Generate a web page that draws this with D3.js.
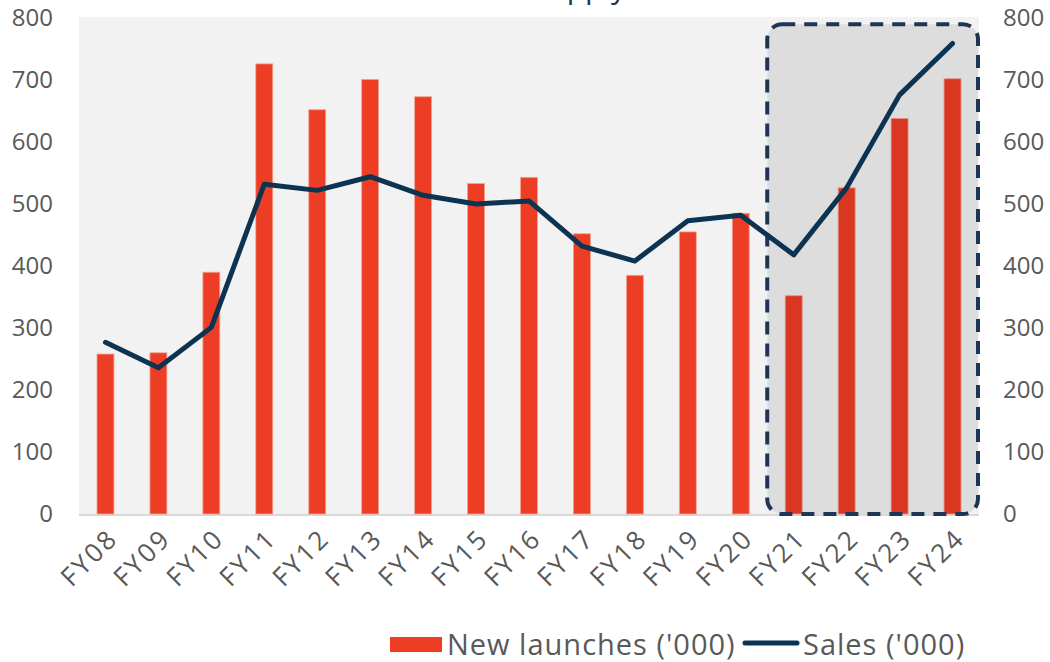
<!DOCTYPE html>
<html>
<head>
<meta charset="utf-8">
<script src="https://cdn.jsdelivr.net/npm/d3@7"></script>
<style>
  body { margin: 0; background: #fff; }
  svg text { font-family: "Open Sans", "Noto Sans", sans-serif; fill: #595959; }
</style>
</head>
<body>
<div id="chart"></div>
<script>
var years = ["FY08","FY09","FY10","FY11","FY12","FY13","FY14","FY15","FY16","FY17","FY18","FY19","FY20","FY21","FY22","FY23","FY24"];
var launches = [258, 260, 390, 726, 652, 701, 673, 533, 543, 452, 385, 455, 485, 352, 526, 638, 702];
var sales = [277, 236, 301, 532, 522, 544, 514, 500, 505, 432, 408, 473, 482, 418, 526, 676, 759];
var yTicks = [0, 100, 200, 300, 400, 500, 600, 700, 800];
var highlight = ["FY21", "FY24"];

var width = 1050,
    height = 662,
    margin = {top: 18, right: 71, bottom: 148, left: 79};

var x = d3.scaleBand()
    .domain(years)
    .range([margin.left, width - margin.right])
    .paddingInner(0.68)
    .paddingOuter(0.34);

var y = d3.scaleLinear()
    .domain([0, 800])
    .range([height - margin.bottom, margin.top]);

var svg = d3.select("#chart").append("svg")
    .attr("width", width)
    .attr("height", height);

// title, cut off by the top edge as in the source
svg.append("text")
    .attr("x", 626)
    .attr("y", -2)
    .attr("text-anchor", "end")
    .style("font-size", "30px")
    .style("fill", "#1f3556")
    .text("Demand-supply");

// plot background
svg.append("rect")
    .attr("x", margin.left)
    .attr("y", margin.top - 1)
    .attr("width", width - margin.left - margin.right)
    .attr("height", y(0) - margin.top + 3)
    .attr("fill", "#f2f2f2");

svg.append("line")
    .attr("x1", margin.left)
    .attr("x2", width - margin.right)
    .attr("y1", y(0) + 1)
    .attr("y2", y(0) + 1)
    .attr("stroke", "#d9d9d9")
    .attr("stroke-width", 2);

svg.selectAll(".bar")
    .data(launches)
  .enter().append("rect")
    .attr("class", "bar")
    .attr("x", function(d, i) { return x(years[i]); })
    .attr("y", function(d) { return y(d); })
    .attr("width", x.bandwidth())
    .attr("height", function(d) { return y(0) - y(d); })
    .attr("fill", "#ee3d25")
    .attr("stroke", "#f3a393")
    .attr("stroke-width", 0.8);

// highlighted period
var step = x.step(),
    bx = x(highlight[0]) - x.paddingInner() * step / 2,
    bx2 = x(highlight[1]) + x.bandwidth() + x.paddingInner() * step / 2 - 1;

svg.append("rect")
    .attr("x", bx)
    .attr("y", y(790))
    .attr("width", bx2 - bx)
    .attr("height", y(0) - y(790))
    .attr("rx", 15)
    .attr("fill", "rgba(0,0,0,0.085)")
    .attr("stroke", "#1f3556")
    .attr("stroke-width", 4)
    .attr("stroke-dasharray", "13,9");

var line = d3.line()
    .x(function(d, i) { return x(years[i]) + x.bandwidth() / 2; })
    .y(function(d) { return y(d); });

svg.append("path")
    .datum(sales)
    .attr("d", line)
    .attr("fill", "none")
    .attr("stroke", "#0c3452")
    .attr("stroke-width", 5)
    .attr("stroke-linejoin", "round")
    .attr("stroke-linecap", "round");

// axes
var yLeft = d3.axisLeft(y).tickValues(yTicks).tickSize(0).tickPadding(26);
var yRight = d3.axisRight(y).tickValues(yTicks).tickSize(0).tickPadding(24);

svg.append("g")
    .attr("transform", "translate(" + margin.left + ",0)")
    .call(yLeft)
    .call(function(g) { g.select(".domain").remove(); })
    .selectAll("text")
    .style("font-size", "24px");

svg.append("g")
    .attr("transform", "translate(" + (width - margin.right) + ",0)")
    .call(yRight)
    .call(function(g) { g.select(".domain").remove(); })
    .selectAll("text")
    .style("font-size", "24px");

var xAxis = d3.axisBottom(x).tickSize(0).tickPadding(0);

svg.append("g")
    .attr("transform", "translate(0," + y(0) + ")")
    .call(xAxis)
    .call(function(g) { g.select(".domain").remove(); })
    .selectAll("text")
    .style("font-size", "26px")
    .style("letter-spacing", "2.5px")
    .attr("text-anchor", "end")
    .attr("transform", "translate(1,13) rotate(-45)")
    .attr("y", 0)
    .attr("dy", "0.71em");

// legend
var lg = svg.append("g");
lg.append("rect")
    .attr("x", 390).attr("y", 637)
    .attr("width", 52).attr("height", 15)
    .attr("fill", "#ee3d25");
lg.append("text")
    .attr("x", 447).attr("y", 655)
    .style("font-size", "29px")
    .style("letter-spacing", "1px")
    .text("New launches ('000)");
lg.append("line")
    .attr("x1", 745).attr("x2", 797)
    .attr("y1", 643).attr("y2", 643)
    .attr("stroke", "#0c3452")
    .attr("stroke-width", 5)
    .attr("stroke-linecap", "round");
lg.append("text")
    .attr("x", 803).attr("y", 655)
    .style("font-size", "29px")
    .style("letter-spacing", "1px")
    .text("Sales ('000)");
</script>
</body>
</html>
